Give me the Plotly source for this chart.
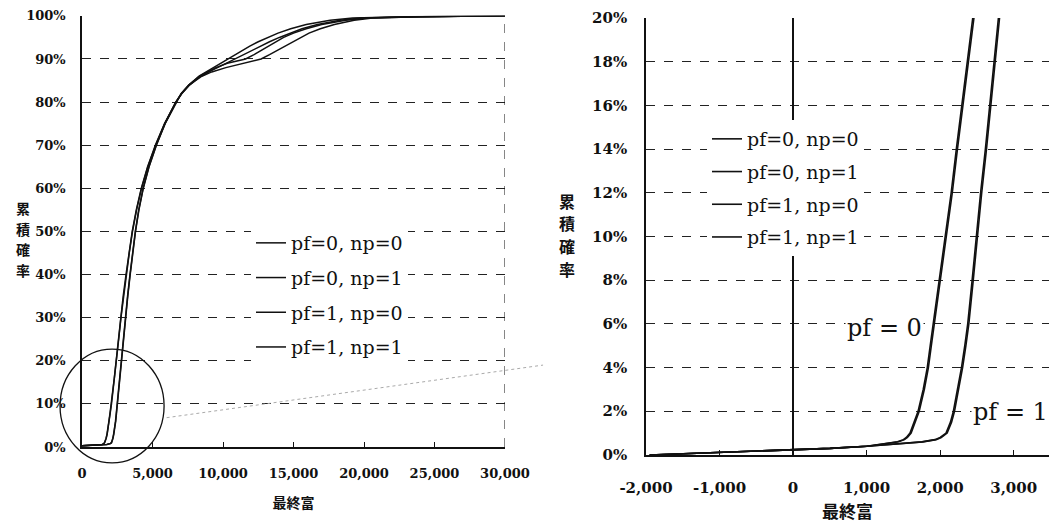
import plotly.graph_objects as go

# Cumulative probability levels and the final wealth reached at each level
cum_prob = [0, 0.0005, 0.001, 0.002, 0.003, 0.004, 0.005, 0.006, 0.007, 0.008,
            0.01, 0.015, 0.02, 0.03, 0.04, 0.05, 0.06, 0.08, 0.10, 0.12,
            0.14, 0.16, 0.18, 0.20, 0.25, 0.30, 0.35, 0.40, 0.45, 0.50,
            0.55, 0.60, 0.65, 0.70, 0.75, 0.80, 0.82, 0.84, 0.86, 0.87,
            0.88, 0.89, 0.90, 0.91, 0.92, 0.93, 0.94, 0.95, 0.96, 0.97,
            0.98, 0.99, 0.995, 0.998, 1.0]

wealth_pf0_np0 = [-1950, -1500, -1100, -150, 500, 1000, 1250, 1420, 1500, 1540,
                  1590, 1650, 1700, 1770, 1825, 1865, 1905, 1990, 2075, 2150,
                  2220, 2290, 2355, 2420, 2580, 2740, 2920, 3120, 3330, 3560,
                  3850, 4200, 4650, 5200, 5850, 6650, 7050, 7600, 8300, 8800,
                  9300, 9800, 10300, 10800, 11300, 11900, 12500, 13200, 13900, 14800,
                  15900, 17600, 19200, 23000, 30000]

wealth_pf0_np1 = [-1950, -1500, -1100, -140, 510, 1010, 1265, 1435, 1515, 1555,
                  1605, 1665, 1715, 1785, 1840, 1880, 1920, 2005, 2090, 2165,
                  2235, 2305, 2370, 2435, 2600, 2760, 2940, 3140, 3350, 3580,
                  3870, 4220, 4670, 5220, 5870, 6660, 7080, 7650, 8400, 9000,
                  9600, 10200, 10900, 11500, 12100, 12700, 13300, 14000, 14800, 15600,
                  16700, 18300, 19800, 23500, 30000]

wealth_pf1_np0 = [-1950, -1500, -1100, -150, 500, 1000, 1450, 1750, 1930, 2000,
                  2080, 2140, 2180, 2240, 2290, 2335, 2375, 2435, 2490, 2550,
                  2615, 2680, 2745, 2810, 2940, 3070, 3230, 3400, 3580, 3780,
                  4020, 4330, 4740, 5260, 5880, 6660, 7060, 7610, 8500, 9200,
                  10200, 11500, 12700, 13300, 13850, 14400, 14900, 15500, 16100, 16900,
                  17900, 19300, 20600, 24000, 30000]

wealth_pf1_np1 = [-1950, -1500, -1100, -140, 510, 1010, 1465, 1765, 1945, 2015,
                  2095, 2155, 2195, 2255, 2305, 2350, 2390, 2450, 2505, 2565,
                  2630, 2695, 2760, 2825, 2955, 3085, 3245, 3415, 3595, 3795,
                  4035, 4345, 4755, 5275, 5895, 6670, 7040, 7580, 8350, 8900,
                  9500, 10300, 11600, 12200, 12700, 13200, 13700, 14300, 15000, 15900,
                  17000, 18700, 20200, 24000, 30000]

series_names = ["pf=0, np=0", "pf=0, np=1", "pf=1, np=0", "pf=1, np=1"]
series_values = [wealth_pf0_np0, wealth_pf0_np1, wealth_pf1_np0, wealth_pf1_np1]

# Axis ticks and titles
left_x_ticks = [0, 5000, 10000, 15000, 20000, 25000, 30000]
left_x_labels = ["0", "5,000", "10,000", "15,000", "20,000", "25,000", "30,000"]
left_y_ticks = [0, 0.1, 0.2, 0.3, 0.4, 0.5, 0.6, 0.7, 0.8, 0.9, 1.0]
right_x_ticks = [-2000, -1000, 0, 1000, 2000, 3000]
right_x_labels = ["-2,000", "-1,000", "0", "1,000", "2,000", "3,000"]
right_y_ticks = [0, 0.02, 0.04, 0.06, 0.08, 0.10, 0.12, 0.14, 0.16, 0.18, 0.20]
x_title = "最終富"
y_title_chars = ["累", "積", "確", "率"]

# Panel geometry (paper fractions) and ranges
L_DOM_X, L_DOM_Y = [0.0782, 0.4814], [0.155, 0.970]
R_DOM_X, R_DOM_Y = [0.6158, 1.0], [0.140, 0.966]
L_RANGE_X, L_RANGE_Y = [0, 30000], [0, 1.0]
R_RANGE_X, R_RANGE_Y = [-2000, 3480], [0, 0.20]

W, H = 1049, 529
SERIF = "DejaVu Serif"
CJK = "Noto Sans CJK JP"
INK = "#111111"


def to_paper(v, rng, dom):
    return dom[0] + (v - rng[0]) / (rng[1] - rng[0]) * (dom[1] - dom[0])


fig = go.Figure()

for i, (name, vals) in enumerate(zip(series_names, series_values)):
    fig.add_trace(go.Scatter(
        x=vals, y=cum_prob, mode="lines", name=name,
        line=dict(color=INK, width=1.5),
        xaxis="x", yaxis="y", legend="legend", legendgroup=f"a{i}",
    ))
for i, (name, vals) in enumerate(zip(series_names, series_values)):
    fig.add_trace(go.Scatter(
        x=vals, y=cum_prob, mode="lines", name=name,
        line=dict(color=INK, width=1.6),
        xaxis="x2", yaxis="y2", legend="legend2", legendgroup=f"b{i}",
    ))

grid = dict(showgrid=True, gridcolor="#222222", gridwidth=1, griddash="dash")
tick_font_l = dict(family=SERIF, size=13, color=INK, weight="bold")
tick_font_r = dict(family=SERIF, size=15, color=INK, weight="bold")
title_font_l = dict(family=CJK, size=14, color=INK, weight="bold")
title_font_r = dict(family=CJK, size=17, color=INK, weight="bold")

fig.update_layout(
    width=W, height=H,
    margin=dict(l=0, r=0, t=0, b=0),
    paper_bgcolor="white", plot_bgcolor="white",
    xaxis=dict(domain=L_DOM_X, range=L_RANGE_X, anchor="y", automargin=False,
               tickvals=left_x_ticks, ticktext=left_x_labels,
               showgrid=False, zeroline=False,
               showline=True, linecolor=INK, linewidth=1.5,
               ticks="inside", ticklen=5, tickcolor=INK,
               tickfont=tick_font_l, ticklabelstandoff=14,
               title=dict(text=x_title, font=title_font_l, standoff=18)),
    yaxis=dict(domain=L_DOM_Y, range=L_RANGE_Y, anchor="x", automargin=False,
               tickvals=left_y_ticks, tickformat=".0%",
               zeroline=False, showline=True, linecolor=INK, linewidth=1.5,
               tickfont=tick_font_l, ticklabelstandoff=12, **grid),
    xaxis2=dict(domain=R_DOM_X, range=R_RANGE_X, anchor="y2", automargin=False,
                tickvals=right_x_ticks, ticktext=right_x_labels,
                showgrid=False, zeroline=True, zerolinecolor=INK, zerolinewidth=1.5,
                showline=True, linecolor=INK, linewidth=1.5,
                ticks="inside", ticklen=5, tickcolor=INK,
                tickfont=tick_font_r, ticklabelstandoff=18,
                title=dict(text=x_title, font=title_font_r, standoff=10)),
    yaxis2=dict(domain=R_DOM_Y, range=R_RANGE_Y, anchor="x2", automargin=False,
                tickvals=right_y_ticks, tickformat=".0%",
                zeroline=False, showline=True, linecolor=INK, linewidth=1.5,
                tickfont=tick_font_r, ticklabelstandoff=14, **grid),
    legend=dict(x=251 / W, y=1 - 224 / H, xanchor="left", yanchor="top",
                bgcolor="white", borderwidth=0, tracegroupgap=7,
                font=dict(family=SERIF, size=19, color=INK)),
    legend2=dict(x=707 / W, y=1 - 120 / H, xanchor="left", yanchor="top",
                 bgcolor="white", borderwidth=0, tracegroupgap=5,
                 font=dict(family=SERIF, size=19, color=INK)),
    showlegend=True,
)

# Dashed right border of the left panel
fig.add_shape(type="line", xref="x", yref="y", x0=30000, x1=30000, y0=0, y1=1,
              line=dict(color=INK, width=1, dash="dash"))

# Circle marking the low-wealth region that the right panel enlarges
cx0, cx1, cy0, cy1 = -1560, 5820, -0.037, 0.227
fig.add_shape(type="circle", xref="paper", yref="paper",
              x0=to_paper(cx0, L_RANGE_X, L_DOM_X), x1=to_paper(cx1, L_RANGE_X, L_DOM_X),
              y0=to_paper(cy0, L_RANGE_Y, L_DOM_Y), y1=to_paper(cy1, L_RANGE_Y, L_DOM_Y),
              line=dict(color=INK, width=1.3))

# Faint dotted connector from the circle towards the enlarged panel
fig.add_shape(type="line", xref="paper", yref="paper",
              x0=to_paper(6000, L_RANGE_X, L_DOM_X), y0=to_paper(0.068, L_RANGE_Y, L_DOM_Y),
              x1=to_paper(32700, L_RANGE_X, L_DOM_X), y1=to_paper(0.190, L_RANGE_Y, L_DOM_Y),
              line=dict(color="#aaaaaa", width=1, dash="dot"))

# Vertical y-axis titles, one character per row
for k, ch in enumerate(y_title_chars):
    fig.add_annotation(xref="paper", yref="paper", x=15 / W, y=1 - (208 + 20.7 * k) / H,
                       text=ch, showarrow=False, borderpad=0,
                       font=dict(family=CJK, size=14, color=INK, weight="bold"))
    fig.add_annotation(xref="paper", yref="paper", x=567 / W, y=1 - (201 + 22.5 * k) / H,
                       text=ch, showarrow=False, borderpad=0,
                       font=dict(family=CJK, size=16, color=INK, weight="bold"))

# Group labels inside the enlarged panel
fig.add_annotation(xref="x2", yref="y2", x=1240, y=0.058, text="pf = 0",
                   showarrow=False, bgcolor="white",
                   font=dict(family=SERIF, size=24, color=INK))
fig.add_annotation(xref="x2", yref="y2", x=2950, y=0.0197, text="pf = 1",
                   showarrow=False, bgcolor="white",
                   font=dict(family=SERIF, size=24, color=INK))

fig.write_html("out.html")
